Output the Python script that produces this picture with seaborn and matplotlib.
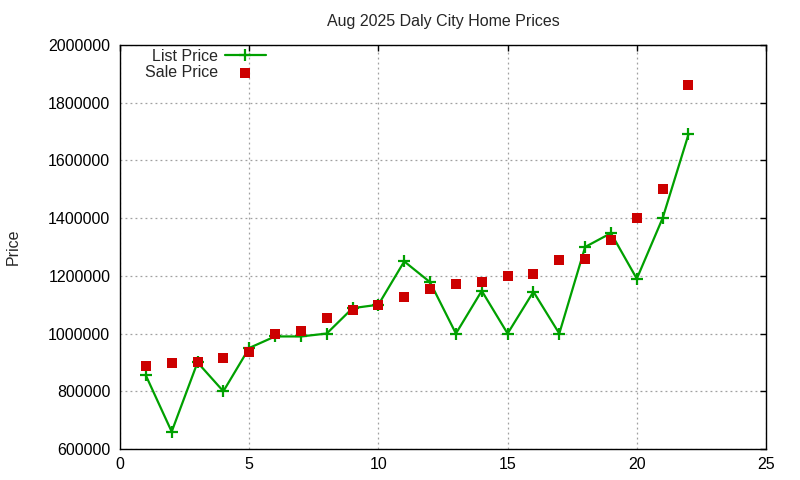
import matplotlib
matplotlib.use("Agg")
import matplotlib.pyplot as plt
import seaborn as sns
import pandas as pd

# house index (sorted by sale price) and prices
house = list(range(1, 23))
list_price = [855000, 660000, 900000, 800000, 950000, 990000, 990000, 1000000, 1088000, 1100000,
              1250000, 1178000, 1000000, 1148000, 1000000, 1145000, 1000000, 1300000, 1348000, 1190000,
              1400000, 1690000]
sale_price = [888000, 899000, 902000, 915000, 935000, 1000000, 1010000, 1055000, 1083000, 1100000,
              1128000, 1153000, 1170000, 1178000, 1200000, 1208000, 1255000, 1260000, 1325000, 1400000,
              1500000, 1860000]
x_ticks = [0, 5, 10, 15, 20, 25]
y_ticks = [600000, 800000, 1000000, 1200000, 1400000, 1600000, 1800000, 2000000]

df = pd.DataFrame({"house": house, "list": list_price, "sale": sale_price})

sns.set_style("white")
plt.rcParams["font.family"] = ["Liberation Sans", "DejaVu Sans"]
plt.rcParams["font.size"] = 11.5

fig = plt.figure(figsize=(8, 4.8), dpi=100)
ax = fig.add_axes([0.15, 0.0646, 0.8075, 0.8417])

green = "#00a000"
sns.lineplot(data=df, x="house", y="list", ax=ax, color=green, linewidth=1.6,
             marker="+", markersize=8, markeredgewidth=1.6, markeredgecolor=green,
             label="List Price")
sns.scatterplot(data=df, x="house", y="sale", ax=ax, color="#cc0000", marker="s",
                s=52, linewidth=0, label="Sale Price", zorder=3)

ax.set_xlim(0, 25)
ax.set_ylim(600000, 2000000)
ax.set_xticks(x_ticks)
ax.set_yticks(y_ticks)
ax.set_yticklabels([str(v) for v in y_ticks])
ax.tick_params(direction="in", length=4, width=1, top=True, right=True,
               labelsize=11.5, colors="black")
ax.tick_params(axis="y", pad=7)
ax.tick_params(axis="x", pad=6)
ax.grid(True, color="#a0a0a0", linestyle=(0, (1.5, 2.5)), linewidth=0.9)
for s in ax.spines.values():
    s.set_color("black")
    s.set_linewidth(1)

ax.set_title("Aug 2025 Daly City Home Prices", fontsize=11.5, pad=14)
ax.set_xlabel("")
ax.set_ylabel("Price", fontsize=11.5)
ax.yaxis.set_label_coords(-0.153, 0.5)

ax.legend(loc="upper right", bbox_to_anchor=(0.2385, 1.01), frameon=False,
          markerfirst=False, borderpad=0, handlelength=2.6, handletextpad=0.4,
          labelspacing=0.05, fontsize=11.5)

fig.savefig("out.png", dpi=100)
